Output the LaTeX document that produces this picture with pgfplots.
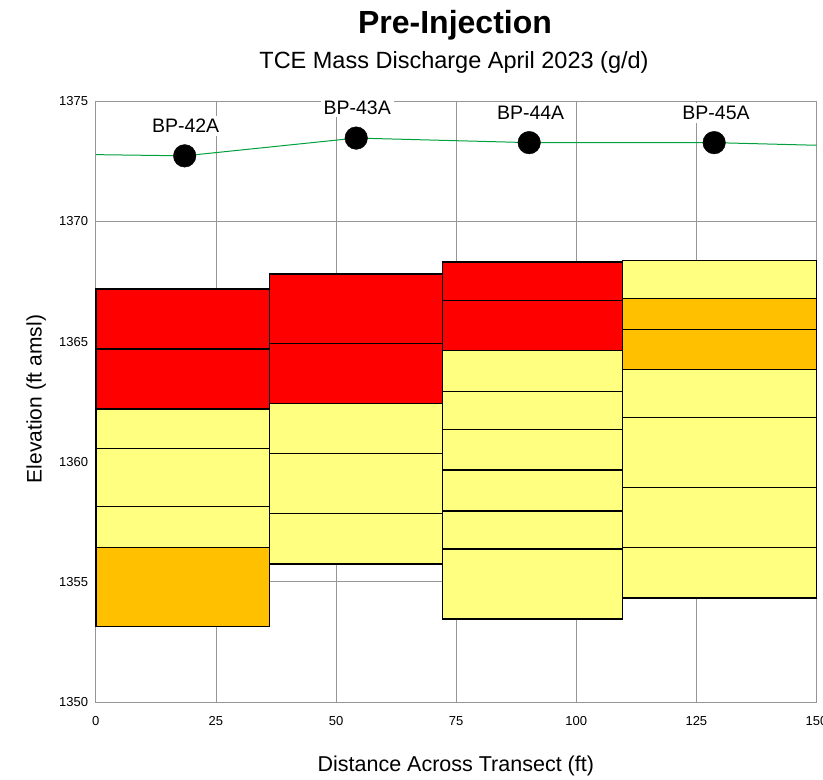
\documentclass[border=0pt]{standalone}
\usepackage{pgfplots}
\pgfplotsset{compat=1.18}
\usepackage{fontspec}
\setmainfont{Liberation Sans}
\definecolor{cRed}{RGB}{255,0,0}
\definecolor{cYel}{RGB}{255,255,128}
\definecolor{cOra}{RGB}{255,192,0}
\definecolor{cGrn}{RGB}{0,160,60}
\definecolor{cGrid}{RGB}{150,150,150}
\newcommand{\layer}[5]{\addplot[fill=#1, draw=black, line width=1.4pt] coordinates {(#2,#4) (#3,#4) (#3,#5) (#2,#5)} --cycle;}
\begin{document}
\begin{tikzpicture}[x=1pt,y=1pt]
\useasboundingbox (0,0) rectangle (823,780);
\begin{axis}[
  at={(95.8pt,78pt)}, anchor=south west,
  scale only axis, width=720.7pt, height=600.7pt,
  xmin=0, xmax=150, ymin=1350, ymax=1375,
  xtick={0,25,50,75,100,125,150},
  ytick={1350,1355,1360,1365,1370,1375},
  grid=major,
  major grid style={cGrid, line width=0.8pt},
  axis line style={cGrid, line width=0.8pt},
  major tick length=0pt,
  /pgf/number format/assume math mode=true,
  /pgf/number format/set thousands separator={},
  ticklabel style={font=\fontsize{13}{13}\selectfont},
  yticklabel style={anchor=east, inner sep=0pt, xshift=-7.5pt},
  xticklabel style={anchor=north, inner sep=0pt, yshift=-14.5pt},
  clip=false,
]
% Column 1 (0 - 36.1)
\layer{cOra}{0}{36.1}{1353.13}{1356.43}
\layer{cYel}{0}{36.1}{1356.43}{1358.13}
\layer{cYel}{0}{36.1}{1358.13}{1360.55}
\layer{cYel}{0}{36.1}{1360.55}{1362.20}
\layer{cRed}{0}{36.1}{1362.20}{1364.69}
\layer{cRed}{0}{36.1}{1364.69}{1367.19}
% Column 2 (36.1 - 72.2)
\layer{cYel}{36.1}{72.2}{1355.75}{1357.84}
\layer{cYel}{36.1}{72.2}{1357.84}{1360.34}
\layer{cYel}{36.1}{72.2}{1360.34}{1362.43}
\layer{cRed}{36.1}{72.2}{1362.43}{1364.93}
\layer{cRed}{36.1}{72.2}{1364.93}{1367.81}
% Column 3 (72.2 - 109.6)
\layer{cYel}{72.2}{109.6}{1353.46}{1356.36}
\layer{cYel}{72.2}{109.6}{1356.36}{1357.95}
\layer{cYel}{72.2}{109.6}{1357.95}{1359.65}
\layer{cYel}{72.2}{109.6}{1359.65}{1361.33}
\layer{cYel}{72.2}{109.6}{1361.33}{1362.92}
\layer{cYel}{72.2}{109.6}{1362.92}{1364.62}
\layer{cRed}{72.2}{109.6}{1364.62}{1366.71}
\layer{cRed}{72.2}{109.6}{1366.71}{1368.32}
% Column 4 (109.6 - 150)
\layer{cYel}{109.6}{150}{1354.33}{1356.43}
\layer{cYel}{109.6}{150}{1356.43}{1358.92}
\layer{cYel}{109.6}{150}{1358.92}{1361.83}
\layer{cYel}{109.6}{150}{1361.83}{1363.83}
\layer{cOra}{109.6}{150}{1363.83}{1365.50}
\layer{cOra}{109.6}{150}{1365.50}{1366.80}
\layer{cYel}{109.6}{150}{1366.80}{1368.38}
% water level line
\addplot[cGrn, line width=1pt] coordinates {(0,1372.78) (18.5,1372.73) (54.2,1373.47) (90.2,1373.28) (128.7,1373.28) (150,1373.17)};
% well markers
\addplot[only marks, mark=*, mark size=11.3pt, mark options={fill=black, draw=black}] coordinates {(18.5,1372.73) (54.2,1373.47) (90.2,1373.28) (128.7,1373.28)};
% well labels
\begin{scope}[every node/.style={fill=white, inner xsep=3pt, inner ysep=3pt, anchor=base, font=\fontsize{19.5}{20}\selectfont}]
\node at (axis cs:18.7,1373.69) {BP-42A};
\node at (axis cs:54.4,1374.46) {BP-43A};
\node at (axis cs:90.5,1374.25) {BP-44A};
\node at (axis cs:129.1,1374.25) {BP-45A};
\end{scope}
\end{axis}
\node[anchor=base, font=\fontsize{32}{34}\selectfont\bfseries] at (455,746.7) {Pre-Injection};
\node[anchor=base, font=\fontsize{23.5}{25}\selectfont] at (454,711.7) {TCE Mass Discharge April 2023 (g/d)};
\node[anchor=base, font=\fontsize{21.5}{23}\selectfont] at (455.8,8.3) {Distance Across Transect (ft)};
\node[anchor=base, rotate=90, font=\fontsize{21}{22}\selectfont] at (41.7,381) {Elevation (ft amsl)};
\end{tikzpicture}
\end{document}
